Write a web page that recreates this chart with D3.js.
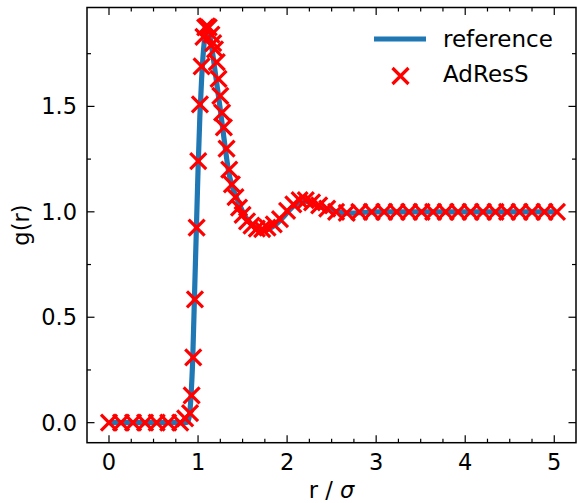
<!DOCTYPE html>
<html><head><meta charset="utf-8">
<script src="https://cdn.jsdelivr.net/npm/d3@7"></script>
<style>body{margin:0;background:#fff}svg{display:block}text{font-family:"DejaVu Sans",sans-serif}</style>
</head><body>
<svg id="c" width="577" height="503"></svg>
<script>
// reference curve g(r)
const refR = [0,0.5,0.86,0.88,0.90,0.92,0.94,0.96,0.98,1.00,1.02,1.04,1.06,1.08,1.10,1.12,1.15,1.20,1.245,1.30,1.34,1.37,1.40,1.44,1.48,1.52,1.58,1.65,1.71,1.78,1.84,1.90,1.96,2.02,2.08,2.14,2.19,2.25,2.32,2.40,2.48,2.56,2.65,2.74,2.85,3.0,3.5,4.0,4.5,5.02];
const refG = [0,0,0,0.002,0.025,0.12,0.30,0.60,0.90,1.20,1.45,1.63,1.76,1.84,1.865,1.855,1.79,1.64,1.50,1.32,1.20,1.14,1.10,1.06,1.02,0.985,0.95,0.925,0.915,0.917,0.93,0.95,0.977,1.005,1.03,1.046,1.05,1.046,1.035,1.02,1.008,1.0,0.995,0.994,0.997,1.0,1.0,1.0,1.0,1.0];
// AdResS samples
const adrR = [0,0.135,0.27,0.405,0.535,0.665,0.80,0.855,0.91,0.928,0.946,0.965,0.984,1.002,1.021,1.04,1.06,1.08,1.10,1.12,1.15,1.17,1.19,1.21,1.23,1.25,1.27,1.29,1.32,1.35,1.38,1.42,1.46,1.50,1.55,1.60,1.66,1.72,1.78,1.85,1.92,2.00,2.07,2.14,2.21,2.28,2.36,2.45,2.55,2.67,2.81,2.95,3.09,3.23,3.37,3.51,3.64,3.78,3.92,4.06,4.20,4.34,4.47,4.61,4.75,4.89,5.03];
const adrG = [0,0,0,0,0,0,0,0.02,0.045,0.13,0.31,0.585,0.925,1.24,1.51,1.69,1.83,1.875,1.88,1.875,1.84,1.80,1.77,1.71,1.63,1.55,1.47,1.40,1.30,1.20,1.13,1.07,1.02,0.985,0.955,0.935,0.92,0.918,0.925,0.94,0.965,1.005,1.035,1.055,1.055,1.045,1.03,1.015,1.0,0.995,1.0,1.0,1.0,1.0,1.0,1.0,1.0,1.0,1.0,1.0,1.0,1.0,1.0,1.0,1.0,1.0,1.0];
const xMajor = [0,1,2,3,4,5];
const yMajor = [0,0.5,1.0,1.5];
const yLabels = ["0.0","0.5","1.0","1.5"];
const legendLabels = ["reference","AdResS"];

const L=87, R=576, T=7.5, B=442.7;
const x = d3.scaleLinear().domain([-0.247,5.244]).range([L,R]);
const y = d3.scaleLinear().domain([-0.095,1.969]).range([B,T]);
const svg = d3.select("#c");
const FS = 22.5;
const blue="#1f77b4", red="#ff0000";

const ref = refR.map((r,i)=>[r,refG[i]]);
const adr = adrR.map((r,i)=>[r,adrG[i]]);

svg.append("clipPath").attr("id","cp").append("rect").attr("x",L).attr("y",T).attr("width",R-L).attr("height",B-T);
const plot = svg.append("g").attr("clip-path","url(#cp)");

plot.append("path").datum(ref)
  .attr("d", d3.line().x(d=>x(d[0])).y(d=>y(d[1])).curve(d3.curveMonotoneX))
  .attr("fill","none").attr("stroke",blue).attr("stroke-width",5.2).attr("stroke-linejoin","round");

const s=8;
function cross(g,cx,cy){
  g.append("path").attr("d",`M${cx-s},${cy-s}L${cx+s},${cy+s}M${cx-s},${cy+s}L${cx+s},${cy-s}`)
   .attr("stroke",red).attr("stroke-width",3.2).attr("fill","none");
}
const mg = plot.append("g");
adr.forEach(d=>cross(mg,x(d[0]),y(d[1])));

// minor ticks
const xMinor = d3.range(-0.25,5.26,0.25).filter(v=>Math.abs(v-Math.round(v))>1e-6 && x(v)>L && x(v)<R);
const yMinor = d3.range(0,1.96,0.25).filter(v=>Math.abs(v*2-Math.round(v*2))>1e-6);
const ax = svg.append("g").attr("stroke","#000").attr("stroke-width",1.2);
xMajor.forEach(v=>{ax.append("line").attr("x1",x(v)).attr("x2",x(v)).attr("y1",B).attr("y2",B-7.5);
  ax.append("line").attr("x1",x(v)).attr("x2",x(v)).attr("y1",T).attr("y2",T+7.5);});
xMinor.forEach(v=>{ax.append("line").attr("x1",x(v)).attr("x2",x(v)).attr("y1",B).attr("y2",B-4);
  ax.append("line").attr("x1",x(v)).attr("x2",x(v)).attr("y1",T).attr("y2",T+4);});
yMajor.forEach(v=>{ax.append("line").attr("y1",y(v)).attr("y2",y(v)).attr("x1",L).attr("x2",L+7.5);
  ax.append("line").attr("y1",y(v)).attr("y2",y(v)).attr("x1",R).attr("x2",R-7.5);});
yMinor.forEach(v=>{ax.append("line").attr("y1",y(v)).attr("y2",y(v)).attr("x1",L).attr("x2",L+4);
  ax.append("line").attr("y1",y(v)).attr("y2",y(v)).attr("x1",R).attr("x2",R-4);});
svg.append("rect").attr("x",L).attr("y",T).attr("width",R-L).attr("height",B-T)
  .attr("fill","none").attr("stroke","#000").attr("stroke-width",1.5);

// tick labels
xMajor.forEach(v=>svg.append("text").attr("x",x(v)).attr("y",B+27).attr("text-anchor","middle")
  .attr("font-size",FS).text(String(v)));
yMajor.forEach((v,i)=>svg.append("text").attr("x",L-10).attr("y",y(v)+8).attr("text-anchor","end")
  .attr("font-size",FS).text(yLabels[i]));

// axis labels
const xl = svg.append("text").attr("x",(L+R)/2).attr("y",498).attr("text-anchor","middle").attr("font-size",FS);
xl.append("tspan").text("r / ");
xl.append("tspan").attr("font-style","italic").text("σ");
svg.append("text").attr("transform",`translate(29,${(T+B)/2}) rotate(-90)`).attr("text-anchor","middle")
  .attr("font-size",FS).text("g(r)");

// legend
svg.append("line").attr("x1",374).attr("x2",426).attr("y1",39).attr("y2",39).attr("stroke",blue).attr("stroke-width",5.2);
svg.append("text").attr("x",443).attr("y",47).attr("font-size",FS+0.5).text(legendLabels[0]);
cross(svg,400.5,76);
svg.append("text").attr("x",443).attr("y",82).attr("font-size",FS+0.5).text(legendLabels[1]);
</script>
</body></html>
